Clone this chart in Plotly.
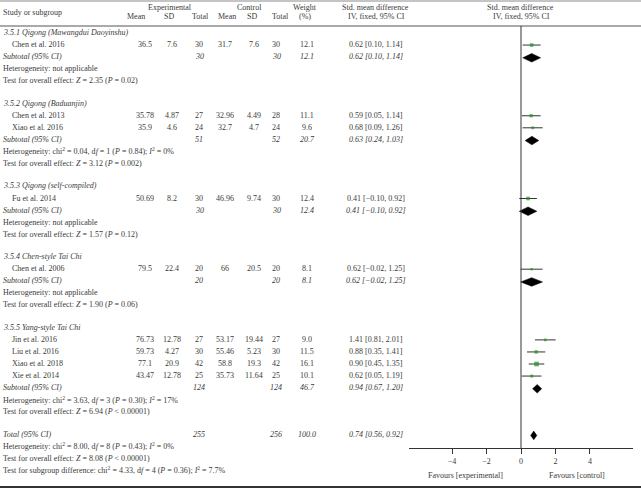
import plotly.graph_objects as go

# ---------------- data ----------------
groups = ["3.5.1 Qigong (Mawangdui Daoyinshu)", "3.5.2 Qigong (Baduanjin)",
          "3.5.3 Qigong (self-compiled)", "3.5.4 Chen-style Tai Chi",
          "3.5.5 Yang-style Tai Chi"]
studies = ["Chen et al. 2016", "Chen et al. 2013", "Xiao et al. 2016", "Fu et al. 2014",
           "Chen et al. 2006", "Jin et al. 2016", "Liu et al. 2016", "Xiao et al. 2018",
           "Xie et al. 2014"]
study_group = [0, 1, 1, 2, 3, 4, 4, 4, 4]
exp_mean = ["36.5", "35.78", "35.9", "50.69", "79.5", "76.73", "59.73", "77.1", "43.47"]
exp_sd = ["7.6", "4.87", "4.6", "8.2", "22.4", "12.78", "4.27", "20.9", "12.78"]
exp_n = [30, 27, 24, 30, 20, 27, 30, 42, 25]
ctrl_mean = ["31.7", "32.96", "32.7", "46.96", "66", "53.17", "55.46", "58.8", "35.73"]
ctrl_sd = ["7.6", "4.49", "4.7", "9.74", "20.5", "19.44", "5.23", "19.3", "11.64"]
ctrl_n = [30, 28, 24, 30, 20, 27, 30, 42, 25]
weight = [12.1, 11.1, 9.6, 12.4, 8.1, 9.0, 11.5, 16.1, 10.1]
smd = [0.62, 0.59, 0.68, 0.41, 0.62, 1.41, 0.88, 0.90, 0.62]
smd_lo = [0.10, 0.05, 0.09, -0.10, -0.02, 0.81, 0.35, 0.45, 0.05]
smd_hi = [1.14, 1.14, 1.26, 0.92, 1.25, 2.01, 1.41, 1.35, 1.19]

group_exp_n = [30, 51, 30, 20, 124]
group_ctrl_n = [30, 52, 30, 20, 124]
group_weight = [12.1, 20.7, 12.4, 8.1, 46.7]
group_smd = [0.62, 0.63, 0.41, 0.62, 0.94]
group_lo = [0.10, 0.24, -0.10, -0.02, 0.67]
group_hi = [1.14, 1.03, 0.92, 1.25, 1.20]
group_chi2 = [None, "0.04", None, None, "3.63"]
group_df = [None, "1", None, None, "3"]
group_het_p = [None, "0.84", None, None, "0.30"]
group_i2 = [None, "0%", None, None, "17%"]
group_z = ["2.35", "3.12", "1.57", "1.90", "6.94"]
group_p = ["= 0.02", "= 0.002", "= 0.12", "= 0.06", "< 0.00001"]

total_exp_n, total_ctrl_n, total_weight = 255, 256, 100.0
total_smd, total_lo, total_hi = 0.74, 0.56, 0.92
total_chi2, total_df, total_het_p, total_i2 = "8.00", "8", "0.43", "0%"
total_z, total_p = "8.08", "< 0.00001"
sub_chi2, sub_df, sub_p, sub_i2 = "4.33", "4", "0.36", "7.7%"

axis_ticks = [-4, -2, 0, 2, 4]
axis_labels = ["\u22124", "\u22122", "0", "2", "4"]

# ---------------- layout constants ----------------
W, H = 641, 488
FONT = "Liberation Serif"
TC = "#3a3a3a"
FS = 8
STEP = 12.05
GAP = 22.5
AXIS_Y = 448

X_STUDY, X_IND = 1, 10
X_EM, X_ESD, X_EN = 145, 172, 199
X_CM, X_CSD, X_CN = 225, 254, 276
X_W, X_SMD = 307, 376

annotations = []


def txt(x, y, s, anchor="center", italic=False, xref="paper", size=FS):
    if italic:
        s = "<i>" + s + "</i>"
    annotations.append(dict(
        x=x / W if xref == "paper" else x, y=y, xref=xref, yref="y", text=s,
        showarrow=False, xanchor=anchor, yanchor="middle",
        font=dict(family=FONT, size=size, color=TC)))


def ci_text(e, lo, hi):
    f = lambda v: ("\u2212%.2f" % -v) if v < 0 else "%.2f" % v
    return "%s [%s, %s]" % (f(e), f(lo), f(hi))


def het_text(chi2, df, p, i2):
    return ("Heterogeneity: chi<sup>2</sup> = %s, d<i>f</i> = %s (<i>P</i> = %s); "
            "<i>I</i><sup>2</sup> = %s" % (chi2, df, p, i2))


# headers
txt(X_STUDY, 12, "Study or subgroup", "left")
txt(170, 7, "Experimental")
txt(249, 7, "Control")
txt(136, 16, "Mean"); txt(169, 16, "SD"); txt(201, 16, "Total")
txt(227, 16, "Mean"); txt(252, 16, "SD"); txt(280, 16, "Total")
txt(305, 7, "Weight"); txt(305, 16, "(%)")
txt(375, 7, "Std. mean difference"); txt(376, 16, "IV, fixed, 95% CI")
txt(520, 7, "Std. mean difference"); txt(521, 16, "IV, fixed, 95% CI")

# rows
study_y = []
group_y = []
y = 32.5
for g, name in enumerate(groups):
    txt(X_STUDY, y, name, "left", italic=True)
    y += STEP
    for i, s in enumerate(studies):
        if study_group[i] != g:
            continue
        study_y.append(y)
        txt(X_IND, y, s, "left")
        txt(X_EM, y, exp_mean[i]); txt(X_ESD, y, exp_sd[i]); txt(X_EN, y, str(exp_n[i]))
        txt(X_CM, y, ctrl_mean[i]); txt(X_CSD, y, ctrl_sd[i]); txt(X_CN, y, str(ctrl_n[i]))
        txt(X_W, y, "%.1f" % weight[i])
        txt(X_SMD, y, ci_text(smd[i], smd_lo[i], smd_hi[i]))
        y += STEP
    group_y.append(y)
    txt(X_STUDY, y, "Subtotal (95% CI)", "left", italic=True)
    txt(X_EN, y, str(group_exp_n[g]), italic=True)
    txt(X_CN, y, str(group_ctrl_n[g]), italic=True)
    txt(X_W, y, "%.1f" % group_weight[g], italic=True)
    txt(X_SMD, y, ci_text(group_smd[g], group_lo[g], group_hi[g]), italic=True)
    y += STEP
    if group_chi2[g] is None:
        txt(X_STUDY, y, "Heterogeneity: not applicable", "left")
    else:
        txt(X_STUDY, y, het_text(group_chi2[g], group_df[g], group_het_p[g], group_i2[g]), "left")
    y += STEP
    txt(X_STUDY, y, "Test for overall effect: <i>Z</i> = %s (<i>P</i> %s)" % (group_z[g], group_p[g]), "left")
    y += GAP

total_y = y
txt(X_STUDY, y, "Total (95% CI)", "left", italic=True)
txt(X_EN, y, str(total_exp_n), italic=True)
txt(X_CN, y, str(total_ctrl_n), italic=True)
txt(X_W, y, "%.1f" % total_weight, italic=True)
txt(X_SMD, y, ci_text(total_smd, total_lo, total_hi), italic=True)
y += STEP
txt(X_STUDY, y, het_text(total_chi2, total_df, total_het_p, total_i2), "left")
y += STEP
txt(X_STUDY, y, "Test for overall effect: <i>Z</i> = %s (<i>P</i> %s)" % (total_z, total_p), "left")
y += STEP
txt(X_STUDY, y, "Test for subgroup difference: chi<sup>2</sup> = %s, d<i>f</i> = %s (<i>P</i> = %s); "
    "<i>I</i><sup>2</sup> = %s" % (sub_chi2, sub_df, sub_p, sub_i2), "left")

# favours labels
txt(-3.25, 475, "Favours [experimental]", xref="x")
txt(3.25, 475, "Favours [control]", xref="x")

fig = go.Figure()

# CI lines
cx, cy = [], []
for i in range(len(studies)):
    cx += [smd_lo[i], smd_hi[i], None]
    cy += [study_y[i] + 0.5, study_y[i] + 0.5, None]
fig.add_trace(go.Scatter(x=cx, y=cy, mode="lines", line=dict(color="#333333", width=1),
                         hoverinfo="skip", showlegend=False))
# squares
fig.add_trace(go.Scatter(x=smd, y=[v + 0.5 for v in study_y], mode="markers",
                         marker=dict(symbol="square", color="#1f8f1f",
                                     size=[0.29 * w for w in weight], line=dict(width=0)),
                         showlegend=False))
# diamonds
HD = 4.3
dx, dy = [], []
for g in range(len(groups)):
    yy = group_y[g] + 1.2
    dx += [group_lo[g], group_smd[g], group_hi[g], group_smd[g], group_lo[g], None]
    dy += [yy, yy - HD, yy, yy + HD, yy, None]
yy = total_y + 1.2
dx += [total_lo, total_smd, total_hi, total_smd, total_lo]
dy += [yy, yy - HD, yy, yy + HD, yy]
fig.add_trace(go.Scatter(x=dx, y=dy, mode="lines", fill="toself", fillcolor="black",
                         line=dict(color="black", width=0.5), showlegend=False))

shapes = [
    dict(type="line", xref="paper", yref="y", x0=0, x1=1, y0=1, y1=1,
         line=dict(color="#8a8a8a", width=1)),
    dict(type="line", xref="paper", yref="y", x0=0, x1=1, y0=26, y1=26,
         line=dict(color="#555555", width=1)),
    dict(type="line", xref="paper", yref="y", x0=0, x1=1, y0=487, y1=487,
         line=dict(color="#333333", width=2)),
    dict(type="line", xref="x", yref="y", x0=0, x1=0, y0=26, y1=AXIS_Y,
         line=dict(color="#333333", width=1)),
]

fig.update_layout(
    width=W, height=H, margin=dict(l=0, r=0, t=0, b=0),
    paper_bgcolor="white", plot_bgcolor="rgba(0,0,0,0)",
    showlegend=False, annotations=annotations, shapes=shapes,
    font=dict(family=FONT, size=FS, color=TC),
    xaxis=dict(domain=[409 / W, 633 / W], range=[-6.5, 6.5], anchor="free",
               position=(H - AXIS_Y) / H, showline=True, linecolor="#333333", linewidth=1,
               ticks="outside", ticklen=5, tickcolor="#333333", tickvals=axis_ticks,
               ticktext=axis_labels, showgrid=False, zeroline=False,
               tickfont=dict(family=FONT, size=FS, color=TC)),
    yaxis=dict(domain=[0, 1], range=[H, 0], visible=False, showgrid=False, zeroline=False),
)

fig.write_html("out.html", config={"displayModeBar": False},
               post_script="document.body.style.margin='0px';"
                           "document.body.style.overflow='hidden';")
